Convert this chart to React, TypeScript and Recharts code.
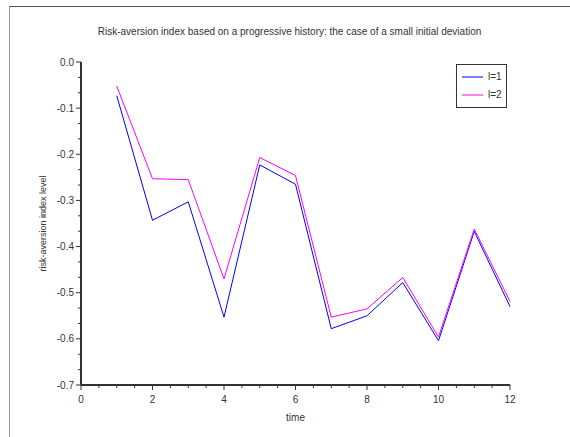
import React from 'react';
import { LineChart, Line, XAxis, YAxis, Legend } from 'recharts';

const times = [1, 2, 3, 4, 5, 6, 7, 8, 9, 10, 11, 12];
const seriesL1 = [-0.073, -0.343, -0.303, -0.553, -0.223, -0.265, -0.578, -0.55, -0.478, -0.604, -0.367, -0.53];
const seriesL2 = [-0.052, -0.253, -0.255, -0.47, -0.207, -0.246, -0.553, -0.535, -0.467, -0.596, -0.362, -0.519];
const seriesNames = ['l=1', 'l=2'];
const seriesColors = ['#0000ff', '#ff00ff'];
const xMajorTicks = [0, 2, 4, 6, 8, 10, 12];
const xAllTicks = Array.from({ length: 25 }, (_, i) => i * 0.5);
const yMajorTicks = [0, -0.1, -0.2, -0.3, -0.4, -0.5, -0.6, -0.7];
const yAllTicks = Array.from({ length: 22 }, (_, i) => -Math.round((i / 30) * 1e6) / 1e6);
const titleText = 'Risk-aversion index based on a progressive history: the case of a small initial deviation';
const xLabel = 'time';
const yLabel = 'risk-aversion index level';

const data = times.map((t, i) => ({ t, l1: seriesL1[i], l2: seriesL2[i] }));

const FONT = '"Liberation Sans", Arial, sans-serif';
const TXT = '#333';

const isYMajor = (v: number) => yMajorTicks.some((m) => Math.abs(m - v) < 1e-6);

const XTick = (props: any) => {
  const { x, y, payload } = props;
  const v = payload.value;
  const major = xMajorTicks.includes(v);
  return (
    <g>
      <line x1={x} x2={x} y1={y} y2={y + (major ? 5 : 3)} stroke="#333" strokeWidth={1} />
      {major && (
        <text x={x} y={y + 18} textAnchor="middle" fontSize={10} fontFamily={FONT} fill={TXT}>
          {v}
        </text>
      )}
    </g>
  );
};

const YTick = (props: any) => {
  const { x, y, payload } = props;
  const v = payload.value;
  const major = isYMajor(v);
  return (
    <g>
      <line x1={x} x2={x - (major ? 5 : 3)} y1={y} y2={y} stroke="#333" strokeWidth={1} />
      {major && (
        <text x={x - 7} y={y + 3.6} textAnchor="end" fontSize={10} fontFamily={FONT} fill={TXT}>
          {Math.abs(v) < 1e-9 ? '0.0' : v.toFixed(1)}
        </text>
      )}
    </g>
  );
};

const YLabelContent = (props: any) => {
  const vb = props.viewBox || {};
  const cx = vb.x + 43;
  const cy = vb.y + vb.height / 2;
  return (
    <text
      x={cx}
      y={cy}
      transform={`rotate(-90, ${cx}, ${cy})`}
      textAnchor="middle"
      dominantBaseline="central"
      fontSize={9}
      fontFamily={FONT}
      fill={TXT}
    >
      {yLabel}
    </text>
  );
};

const XLabelContent = (props: any) => {
  const vb = props.viewBox || {};
  const cx = vb.x + vb.width / 2;
  const cy = vb.y + 36;
  return (
    <text x={cx} y={cy} textAnchor="middle" fontSize={10} fontFamily={FONT} fill={TXT}>
      {xLabel}
    </text>
  );
};

const renderLegend = (props: any) => {
  const payload = props.payload || [];
  return (
    <div
      style={{
        position: 'relative',
        width: 51,
        height: 44,
        boxSizing: 'border-box',
        border: '1px solid #333',
        background: '#fff',
        fontFamily: FONT,
        fontSize: 10,
        color: TXT,
      }}
    >
      {payload.map((p: any, i: number) => (
        <div key={i} style={{ position: 'absolute', left: 4, top: 6 + i * 18, height: 12, width: 46 }}>
          <svg width={24} height={12} style={{ position: 'absolute', left: 0, top: 0 }}>
            <line x1={1} x2={22} y1={6} y2={6} stroke={p.color} strokeWidth={1} />
          </svg>
          <span style={{ position: 'absolute', left: 27, top: 0, lineHeight: '12px' }}>{p.value}</span>
        </div>
      ))}
    </div>
  );
};

export default function App() {
  return (
    <div style={{ position: 'absolute', left: 0, top: 0, width: 570, height: 437, background: '#fff', overflow: 'hidden' }}>
      <div
        style={{
          position: 'absolute',
          left: 9,
          top: 6,
          width: 570,
          height: 440,
          borderLeft: '1px solid #999',
          borderTop: '1px solid #555',
        }}
      />
      <div
        style={{
          position: 'absolute',
          left: 9,
          top: 26,
          width: 561,
          textAlign: 'center',
          fontFamily: FONT,
          fontSize: 10,
          lineHeight: '12px',
          color: TXT,
        }}
      >
        {titleText}
      </div>
      <div style={{ position: 'absolute', left: 0, top: 0 }}>
        <LineChart width={570} height={437} data={data} margin={{ top: 62, right: 60, bottom: 0, left: 0 }}>
          <XAxis
            dataKey="t"
            type="number"
            domain={[0, 12]}
            ticks={xAllTicks}
            interval={0}
            tickSize={0}
            tickMargin={0}
            tickLine={false}
            tick={<XTick />}
            axisLine={{ stroke: '#333', strokeWidth: 2 }}
            height={52}
            label={<XLabelContent />}
          />
          <XAxis
            xAxisId="top"
            orientation="top"
            dataKey="t"
            type="number"
            domain={[0, 12]}
            height={0}
            tick={false}
            tickLine={false}
            axisLine={{ stroke: '#666', strokeWidth: 1 }}
          />
          <YAxis
            type="number"
            domain={[-0.7, 0]}
            ticks={yAllTicks}
            interval={0}
            tickSize={0}
            tickMargin={0}
            tickLine={false}
            tick={<YTick />}
            axisLine={{ stroke: '#333', strokeWidth: 2 }}
            width={81}
            label={<YLabelContent />}
          />
          <YAxis
            yAxisId="right"
            orientation="right"
            type="number"
            domain={[-0.7, 0]}
            width={0}
            tick={false}
            tickLine={false}
            axisLine={{ stroke: '#888', strokeWidth: 2 }}
          />
          <Legend
            layout="vertical"
            align="center"
            verticalAlign="middle"
            wrapperStyle={{ position: 'absolute', left: 456, top: 64, width: 51, height: 44 }}
            content={renderLegend}
          />
          <Line
            dataKey="l1"
            name={seriesNames[0]}
            stroke={seriesColors[0]}
            strokeWidth={1}
            dot={false}
            activeDot={false}
            isAnimationActive={false}
          />
          <Line
            dataKey="l2"
            name={seriesNames[1]}
            stroke={seriesColors[1]}
            strokeWidth={1}
            dot={false}
            activeDot={false}
            isAnimationActive={false}
          />
        </LineChart>
      </div>
    </div>
  );
}
